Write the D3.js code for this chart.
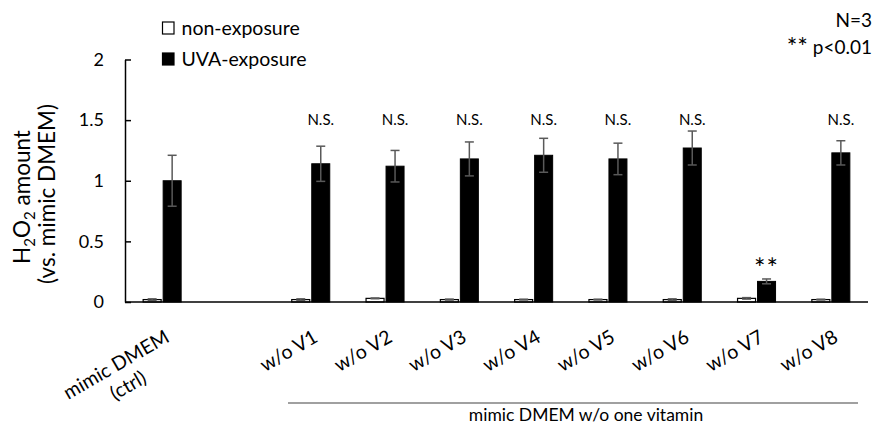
<!DOCTYPE html>
<html>
<head>
<meta charset="utf-8">
<script src="https://cdn.jsdelivr.net/npm/d3@7"></script>
<style>
  html, body { margin: 0; padding: 0; background: #fff; }
  svg { display: block; font-family: Lato, "Open Sans", sans-serif; }
</style>
</head>
<body>
<svg id="chart" width="878" height="428"></svg>
<script>
// Categories along the x axis ("gap" is an empty spacer slot)
const categories = ["ctrl", "gap", "V1", "V2", "V3", "V4", "V5", "V6", "V7", "V8"];
const categoryLabels = [["mimic DMEM", "(ctrl)"], [], ["w/o V1"], ["w/o V2"], ["w/o V3"], ["w/o V4"],
                        ["w/o V5"], ["w/o V6"], ["w/o V7"], ["w/o V8"]];
// Means and error (SD) for each series; null = no bar
const nonExposure    = [0.02, null, 0.02, 0.03, 0.02, 0.02, 0.02, 0.02, 0.03, 0.02];
const nonExposureErr = [0.006, null, 0.006, 0.003, 0.004, 0.003, 0.003, 0.006, 0.006, 0.003];
const uvaExposure    = [1.00, null, 1.14, 1.12, 1.18, 1.21, 1.18, 1.27, 0.17, 1.23];
const uvaExposureErr = [0.21, null, 0.145, 0.13, 0.14, 0.14, 0.13, 0.14, 0.02, 0.10];
const significance   = ["", "", "N.S.", "N.S.", "N.S.", "N.S.", "N.S.", "N.S.", "**", "N.S."];
const yTicks = [0, 0.5, 1, 1.5, 2];
const yTickLabels = ["0", "0.5", "1", "1.5", "2"];

const svg = d3.select("#chart");
const plotLeft = 125, plotRight = 868, plotTop = 59.5, plotBottom = 302;

const x = d3.scaleBand().domain(categories).range([plotLeft, plotRight]).paddingInner(0).paddingOuter(0);
const y = d3.scaleLinear().domain([0, 2]).range([plotBottom, plotTop]);
const bw = 18, off = 10;

// Y axis
const yAxis = d3.axisLeft(y).tickValues(yTicks).tickFormat((d, i) => yTickLabels[i])
  .tickSizeInner(-6).tickSizeOuter(0).tickPadding(21);
const gy = svg.append("g").attr("transform", `translate(${plotLeft},0)`).call(yAxis);
gy.select(".domain").attr("stroke", "#000").attr("stroke-width", 1.5);
gy.selectAll(".tick line").attr("stroke", "#000").attr("stroke-width", 1.5);
gy.selectAll(".tick text").attr("font-size", 18).attr("fill", "#000")
  .attr("font-family", "Lato, sans-serif");

// Bars
const cx = c => x(c) + x.bandwidth() / 2;
const data = categories.map((c, i) => ({c, n: nonExposure[i], ne: nonExposureErr[i],
  u: uvaExposure[i], ue: uvaExposureErr[i], s: significance[i], i}));
const bars = svg.append("g");
data.filter(d => d.n !== null).forEach(d => {
  bars.append("rect").attr("x", cx(d.c) - off - bw / 2).attr("y", y(d.n))
    .attr("width", bw).attr("height", y(0) - y(d.n))
    .attr("fill", "#fff").attr("stroke", "#000").attr("stroke-width", 1.2);
  bars.append("rect").attr("x", cx(d.c) + off - bw / 2).attr("y", y(d.u))
    .attr("width", bw).attr("height", y(0) - y(d.u))
    .attr("fill", "#000").attr("stroke", "#000").attr("stroke-width", 1);
});

// Error bars
const err = svg.append("g").attr("stroke", "#595959").attr("stroke-width", 1.5);
function errorBar(xc, v, e) {
  err.append("line").attr("x1", xc).attr("x2", xc).attr("y1", y(v + e)).attr("y2", y(v - e));
  err.append("line").attr("x1", xc - 4.5).attr("x2", xc + 4.5).attr("y1", y(v + e)).attr("y2", y(v + e));
  err.append("line").attr("x1", xc - 4.5).attr("x2", xc + 4.5).attr("y1", y(v - e)).attr("y2", y(v - e));
}
data.filter(d => d.n !== null).forEach(d => {
  errorBar(cx(d.c) - off, d.n, d.ne);
  errorBar(cx(d.c) + off, d.u, d.ue);
});

// X axis line
svg.append("line").attr("x1", plotLeft).attr("x2", plotRight).attr("y1", y(0)).attr("y2", y(0))
  .attr("stroke", "#000").attr("stroke-width", 1.5);

// Significance marks
data.filter(d => d.s).forEach(d => {
  const isStar = d.s === "**";
  svg.append("text").attr("x", cx(d.c) + off)
    .attr("y", isStar ? y(d.u + d.ue) - 1 : 125)
    .attr("text-anchor", "middle").attr("font-size", isStar ? 27 : 15)
    .attr("letter-spacing", isStar ? 1 : 0)
    .attr("fill", "#000").text(d.s);
});

// Category labels (rotated)
data.forEach(d => {
  const lines = categoryLabels[d.i];
  if (!lines.length) return;
  const g = svg.append("g").attr("transform", `translate(${cx(d.c) + 5},${335}) rotate(-30)`);
  const t1 = g.append("text").attr("text-anchor", "end").attr("font-size", 19.5).attr("fill", "#000")
    .attr("dy", "0.35em").text(lines[0]);
  if (lines.length > 1) {
    const w1 = t1.node().getComputedTextLength();
    g.append("text").attr("text-anchor", "middle").attr("font-size", 19.5).attr("fill", "#000")
      .attr("x", -w1 / 2).attr("y", 24).attr("dy", "0.35em").text(lines[1]);
  }
});

// Group bracket for vitamin-dropout media
svg.append("line").attr("x1", 288).attr("x2", 858).attr("y1", 403).attr("y2", 403)
  .attr("stroke", "#808080").attr("stroke-width", 1.3);
svg.append("text").attr("x", 586).attr("y", 415).attr("dy", "0.35em").attr("text-anchor", "middle")
  .attr("font-size", 17.5).attr("fill", "#000").text("mimic DMEM w/o one vitamin");

// Y axis title
const yt = svg.append("g").attr("transform", "translate(22,197) rotate(-90)");
const t = yt.append("text").attr("text-anchor", "middle").attr("dy", "0.35em")
  .attr("font-size", 22.5).attr("fill", "#000");
t.append("tspan").text("H");
t.append("tspan").attr("font-size", 15).attr("dy", 5).text("2");
t.append("tspan").attr("dy", -5).text("O");
t.append("tspan").attr("font-size", 15).attr("dy", 5).text("2");
t.append("tspan").attr("dy", -5).text(" amount");
svg.append("text").attr("transform", "translate(47,194) rotate(-90)").attr("text-anchor", "middle")
  .attr("dy", "0.35em").attr("font-size", 22.5).attr("fill", "#000").text("(vs. mimic DMEM)");

// Legend
const legend = [{label: "non-exposure", fill: "#fff"}, {label: "UVA-exposure", fill: "#000"}];
legend.forEach((l, i) => {
  const ly = 28 + i * 31;
  svg.append("rect").attr("x", 162.5).attr("y", ly - 6).attr("width", 11.5).attr("height", 12)
    .attr("fill", l.fill).attr("stroke", "#000").attr("stroke-width", 1.2);
  svg.append("text").attr("x", 181.5).attr("y", ly).attr("dy", "0.35em").attr("font-size", 19.5)
    .attr("fill", "#000").text(l.label);
});

// Notes
svg.append("text").attr("x", 872).attr("y", 20).attr("dy", "0.35em").attr("text-anchor", "end")
  .attr("font-size", 19).attr("fill", "#000").text("N=3");
const note = svg.append("text").attr("x", 872).attr("y", 45).attr("dy", "0.35em").attr("text-anchor", "end")
  .attr("font-size", 19).attr("fill", "#000");
note.append("tspan").attr("font-size", 25).attr("dy", "0.45em").text("**");
note.append("tspan").attr("dy", "-0.1em").text(" p<0.01");
</script>
</body>
</html>
